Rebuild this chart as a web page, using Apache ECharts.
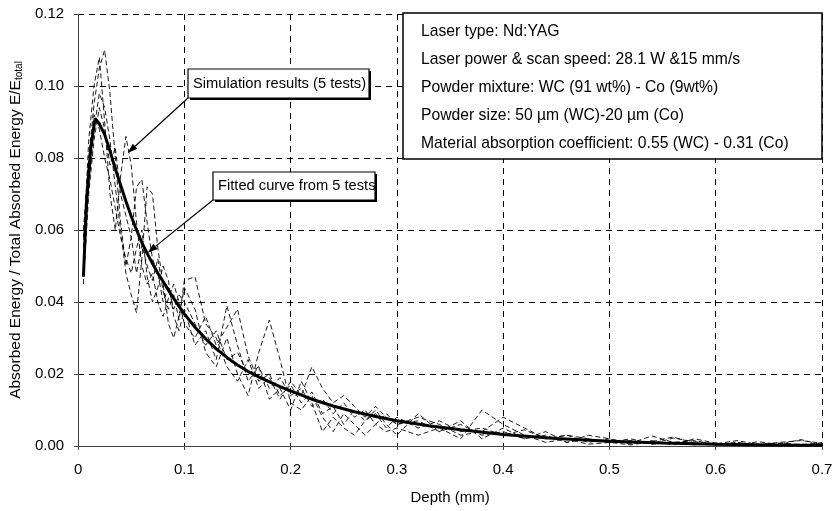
<!DOCTYPE html>
<html><head><meta charset="utf-8">
<script src="https://cdn.jsdelivr.net/npm/echarts@6/dist/echarts.min.js"></script>
<style>html,body{margin:0;padding:0;background:#fff}#c{width:840px;height:511px}</style>
</head><body><div id="c"></div>
<script>
const FONT = "'Liberation Sans', Arial, sans-serif";
const xTickLabels = ['0','0.1','0.2','0.3','0.4','0.5','0.6','0.7'];
const yTickLabels = ['0.00','0.02','0.04','0.06','0.08','0.10','0.12'];
const xAxisTitle = 'Depth (mm)';
const yAxisTitle = 'Absorbed Energy / Total Absorbed Energy E/E';
const yAxisTitleSub = 'total';
const infoLines = [
  'Laser type: Nd:YAG',
  'Laser power & scan speed: 28.1 W &15 mm/s',
  'Powder mixture: WC (91 wt%) - Co (9wt%)',
  'Powder size: 50 \u00b5m (WC)-20 \u00b5m (Co)',
  'Material absorption coefficient: 0.55 (WC) - 0.31 (Co)'
];
const simLabel = 'Simulation results (5 tests)';
const fitLabel = 'Fitted curve from 5 tests';
const simArrowTip = [0.0467, 0.0814];
const fitArrowTip = [0.0655, 0.0537];

// fitted curve
const fitX = [0.005,0.008,0.012,0.016,0.02,0.025,0.03,0.035,0.04,0.045,0.05,0.055,0.06,0.065,0.07,0.075,0.08,0.085,0.09,0.095,0.1,0.11,0.12,0.13,0.14,0.15,0.16,0.17,0.18,0.19,0.2,0.22,0.24,0.26,0.28,0.3,0.33,0.36,0.4,0.45,0.5,0.55,0.6,0.65,0.7];
const fitY = [0.047,0.068,0.083,0.091,0.0895,0.0865,0.082,0.077,0.0725,0.068,0.0638,0.06,0.0565,0.0535,0.0507,0.048,0.0457,0.0433,0.041,0.0388,0.0367,0.033,0.0298,0.027,0.0246,0.0225,0.0207,0.0192,0.0178,0.0165,0.0153,0.013,0.0111,0.0095,0.0082,0.0070,0.0056,0.0045,0.0032,0.0021,0.0013,0.0008,0.0005,0.0003,0.0002];

// simulation runs (shared depth samples)
const simX = [0.005,0.01,0.015,0.02,0.025,0.03,0.035,0.04,0.045,0.05,0.055,0.06,0.065,0.07,0.075,0.08,0.085,0.09,0.095,0.1,
  0.11,0.12,0.13,0.14,0.15,0.16,0.17,0.18,0.19,0.2,0.21,0.22,0.23,0.24,0.25,0.26,0.27,0.28,0.29,0.3,
  0.32,0.34,0.36,0.38,0.4,0.42,0.44,0.46,0.48,0.5,0.52,0.54,0.56,0.58,0.6,0.62,0.64,0.66,0.68,0.7];
const sim1 = [0.060,0.080,0.095,0.105,0.110,0.098,0.080,0.062,0.050,0.058,0.072,0.074,0.062,0.052,0.048,0.040,0.044,0.038,0.042,0.040,
  0.034,0.028,0.032,0.024,0.026,0.020,0.022,0.016,0.019,0.014,0.016,0.011,0.013,0.009,0.012,0.008,0.010,0.006,0.009,0.006,
  0.007,0.004,0.006,0.003,0.004,0.002,0.003,0.001,0.002,0.001,0.0015,0.0005,0.001,0.0003,0.0008,0.0002,0.0006,0.0002,0.0005,0.0002];
const sim2 = [0.055,0.085,0.100,0.108,0.090,0.070,0.060,0.075,0.086,0.078,0.062,0.050,0.045,0.048,0.040,0.036,0.041,0.045,0.040,0.034,
  0.030,0.036,0.028,0.033,0.038,0.025,0.018,0.020,0.014,0.017,0.012,0.015,0.009,0.011,0.006,0.010,0.007,0.009,0.005,0.008,
  0.005,0.007,0.004,0.005,0.003,0.0045,0.002,0.003,0.001,0.002,0.0008,0.0028,0.001,0.0015,0.0004,0.001,0.0003,0.0008,0.0004,0.0006];
const sim3 = [0.050,0.072,0.088,0.098,0.094,0.085,0.072,0.060,0.048,0.042,0.037,0.052,0.072,0.070,0.055,0.045,0.034,0.030,0.036,0.044,
  0.038,0.026,0.022,0.030,0.020,0.014,0.026,0.035,0.024,0.012,0.010,0.014,0.008,0.004,0.009,0.006,0.003,0.006,0.004,0.005,
  0.003,0.005,0.002,0.010,0.006,0.003,0.001,0.002,0.0005,0.001,0.0003,0.0012,0.0025,0.0008,0.0003,0.0009,0.0002,0.0007,0.0003,0.0009];
const sim4 = [0.045,0.070,0.085,0.094,0.088,0.078,0.083,0.070,0.064,0.058,0.048,0.056,0.050,0.046,0.052,0.043,0.038,0.042,0.035,0.046,
  0.047,0.034,0.030,0.022,0.018,0.024,0.016,0.019,0.013,0.018,0.014,0.022,0.016,0.012,0.014,0.011,0.008,0.011,0.008,0.006,
  0.008,0.006,0.003,0.004,0.008,0.005,0.002,0.003,0.002,0.001,0.002,0.0006,0.0022,0.0012,0.0006,0.0015,0.0004,0.001,0.0015,0.0008];
const sim5 = [0.058,0.078,0.092,0.088,0.080,0.074,0.066,0.058,0.052,0.048,0.055,0.060,0.047,0.040,0.044,0.050,0.046,0.036,0.032,0.038,
  0.028,0.032,0.024,0.039,0.028,0.018,0.022,0.013,0.016,0.010,0.018,0.012,0.004,0.008,0.005,0.003,0.007,0.010,0.006,0.003,
  0.009,0.004,0.007,0.002,0.005,0.002,0.004,0.001,0.003,0.002,0.0005,0.0015,0.0003,0.002,0.0008,0.0002,0.0012,0.0004,0.0018,0.0003];
const simRuns = [sim1, sim2, sim3, sim4, sim5];

const chart = echarts.init(document.getElementById('c'), null, {renderer: 'canvas'});
const pairs = (xs, ys) => xs.map((x, i) => [x, ys[i]]);
const gridDash = {color: '#000', width: 1, type: [6, 5]};

const series = simRuns.map((run, k) => ({
  type: 'line', name: 'sim' + (k + 1), data: pairs(simX, run), showSymbol: false, symbol: 'none',
  lineStyle: {color: '#000', width: 0.9, type: [5, 3]}, z: 2, silent: true, animation: false
}));
series.push({
  type: 'line', name: 'fit', data: pairs(fitX, fitY), showSymbol: false, symbol: 'none',
  lineStyle: {color: '#000', width: 3}, z: 3, silent: true, animation: false
});

chart.setOption({
  animation: false,
  backgroundColor: '#fff',
  textStyle: {fontFamily: FONT},
  grid: {left: 77, right: 18, top: 14, bottom: 65, containLabel: false},
  xAxis: {
    type: 'value', min: 0, max: 0.7, interval: 0.1,
    name: xAxisTitle, nameLocation: 'middle', nameGap: 44,
    nameTextStyle: {color: '#000', fontSize: 15, fontFamily: FONT},
    axisLine: {show: true, onZero: false, lineStyle: {color: '#444', width: 1}},
    axisTick: {show: true, length: 4, lineStyle: {color: '#444'}},
    axisLabel: {color: '#000', fontSize: 15, fontFamily: FONT, margin: 16,
      formatter: v => xTickLabels[Math.round(v / 0.1)]},
    splitLine: {show: true, lineStyle: gridDash}
  },
  yAxis: {
    type: 'value', min: 0, max: 0.12, interval: 0.02,
    name: '{m|' + yAxisTitle + '}{s|' + yAxisTitleSub + '}', nameLocation: 'middle', nameGap: 54, nameRotate: 90,
    nameTextStyle: {color: '#000', fontFamily: FONT,
      rich: {m: {fontSize: 15.5, fontFamily: FONT, color: '#000'},
             s: {fontSize: 10, fontFamily: FONT, color: '#000', padding: [6, 0, 0, 0]}}},
    axisLine: {show: true, lineStyle: {color: '#444', width: 1}},
    axisTick: {show: true, length: 4, lineStyle: {color: '#444'}},
    axisLabel: {color: '#000', fontSize: 15, fontFamily: FONT, margin: 14,
      formatter: v => yTickLabels[Math.round(v / 0.02)]},
    splitLine: {show: true, lineStyle: gridDash}
  },
  series: series
});

// annotations (computed from the chart's own scales)
function arrowEls(p0, p1) {
  const dx = p1[0] - p0[0], dy = p1[1] - p0[1];
  const L = Math.hypot(dx, dy), ux = dx / L, uy = dy / L;
  const hl = 10, hw = 3.5;
  const bx = p1[0] - ux * hl, by = p1[1] - uy * hl;
  return [
    {type: 'line', shape: {x1: p0[0], y1: p0[1], x2: bx, y2: by}, style: {stroke: '#000', lineWidth: 1.2}, z: 20},
    {type: 'polygon', shape: {points: [[p1[0], p1[1]], [bx - uy * hw, by + ux * hw], [bx + uy * hw, by - ux * hw]]},
      style: {fill: '#000'}, z: 20}
  ];
}
function labelBox(x, y, w, h, text) {
  return [
    {type: 'rect', shape: {x: x + 2, y: y + 2, width: w, height: h}, style: {fill: '#000'}, z: 21},
    {type: 'rect', shape: {x: x, y: y, width: w, height: h}, style: {fill: '#fff', stroke: '#000', lineWidth: 1.2}, z: 22},
    {type: 'text', x: x + 5, y: y + h / 2, style: {text: text, fill: '#000', font: '14.7px ' + FONT, verticalAlign: 'middle'}, z: 23}
  ];
}

const corner = chart.convertToPixel({gridIndex: 0}, [0.7, 0.12]);
const boxW = 419, boxH = 146;
const bx0 = corner[0] - boxW, by0 = corner[1] - 1;
const els = [];
els.push({type: 'rect', shape: {x: bx0, y: by0, width: boxW, height: boxH}, style: {fill: '#fff', stroke: '#000', lineWidth: 1.5}, z: 20});
infoLines.forEach((t, i) => {
  els.push({type: 'text', x: bx0 + 18, y: by0 + 19 + i * 28, style: {text: t, fill: '#000', font: '15.7px ' + FONT, verticalAlign: 'middle'}, z: 21});
});

const simBox = [188, 69, 181, 29];
const fitBox = [213, 172, 162, 28];
const simTip = chart.convertToPixel({gridIndex: 0}, simArrowTip);
const fitTip = chart.convertToPixel({gridIndex: 0}, fitArrowTip);
els.push(...arrowEls([simBox[0], simBox[1] + simBox[3]], simTip));
els.push(...arrowEls([fitBox[0], fitBox[1] + fitBox[3]], fitTip));
els.push(...labelBox(simBox[0], simBox[1], simBox[2], simBox[3], simLabel));
els.push(...labelBox(fitBox[0], fitBox[1], fitBox[2], fitBox[3], fitLabel));

chart.setOption({graphic: {elements: els}});
</script>
</body></html>
